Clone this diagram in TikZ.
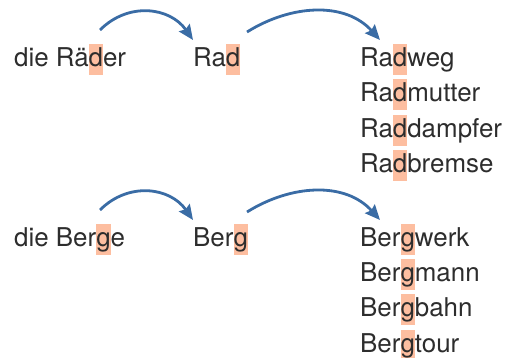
\documentclass[tikz,border=0pt]{standalone}
\usepackage{fontspec}
\setmainfont{TeX Gyre Heros}
\usetikzlibrary{arrows.meta}
\definecolor{hlcol}{RGB}{253,190,160}
\definecolor{arrcol}{RGB}{58,108,165}
\definecolor{txtcol}{RGB}{45,45,45}
% markierter Buchstabe
\newcommand\hl[1]{{\setlength{\fboxsep}{0pt}\colorbox{hlcol}{\rule[-8.5pt]{0pt}{31pt}#1}}}
\tikzset{
  word/.style={anchor=base west, inner sep=0pt, text=txtcol, font=\fontsize{25.9}{30}\selectfont},
  bogen/.style={arrcol, line width=2.8pt, -{Stealth[length=15pt,width=13pt,inset=2pt]}}
}
\begin{document}
\begin{tikzpicture}[x=1pt, y=-1pt]
    \useasboundingbox (0,0) rectangle (507,358);
    % Rad
                                        \node[word] (raeder) at (14,67) {die Rä\hl{d}er};
                                        \node[word] (rad) at (193,67) {Ra\hl{d}};
                                        \node[word] (radweg) at (360,67) {Ra\hl{d}weg};
                                        \node[word] (radmutter) at (360,102) {Ra\hl{d}mutter};
                                        \node[word] (raddampfer) at (360,137.5) {Ra\hl{d}dampfer};
                                        \node[word] (radbremse) at (360,173) {Ra\hl{d}bremse};
                                        \draw[bogen] ([xshift=86pt,yshift=37pt]raeder.base west) to[out=45, in=125, looseness=1.1] ([yshift=27pt]rad.base west);
                                        \draw[bogen] ([xshift=54pt,yshift=35pt]rad.base west) to[out=32, in=132] ([xshift=20pt,yshift=27pt]radweg.base west);
    % Berg
                                        \node[word] (berge) at (14,247) {die Ber\hl{g}e};
                                        \node[word] (berg) at (193,247) {Ber\hl{g}};
                                        \node[word] (bergwerk) at (360,247) {Ber\hl{g}werk};
                                        \node[word] (bergmann) at (360,282) {Ber\hl{g}mann};
                                        \node[word] (bergbahn) at (360,317) {Ber\hl{g}bahn};
                                        \node[word] (bergtour) at (360,353) {Ber\hl{g}tour};
                                        \draw[bogen] ([xshift=86pt,yshift=37pt]berge.base west) to[out=45, in=125, looseness=1.1] ([yshift=27pt]berg.base west);
                                        \draw[bogen] ([xshift=54pt,yshift=35pt]berg.base west) to[out=32, in=132] ([xshift=20pt,yshift=27pt]bergwerk.base west);
\end{tikzpicture}
\end{document}
